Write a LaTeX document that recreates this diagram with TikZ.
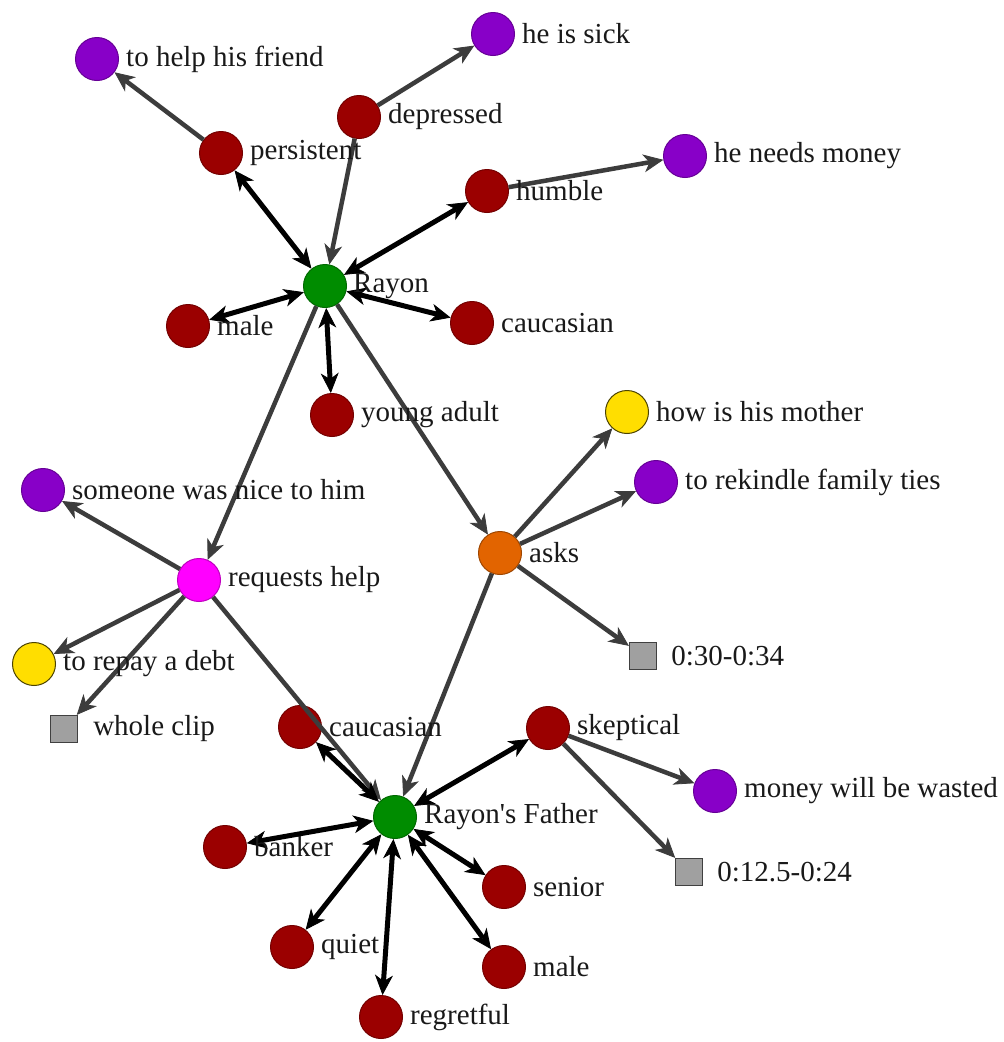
\documentclass[tikz,border=0pt]{standalone}
\usepackage{fontspec}
\setmainfont{Liberation Serif}
\newfontfamily\labelfont{Liberation Serif}
\usetikzlibrary{arrows.meta}

\definecolor{attrred}{RGB}{155,0,0}
\definecolor{aimpurple}{RGB}{136,0,200}
\definecolor{hubgreen}{RGB}{0,140,0}
\definecolor{actmagenta}{RGB}{255,0,255}
\definecolor{actorange}{RGB}{226,100,0}
\definecolor{askyellow}{RGB}{255,222,0}
\definecolor{boxgray}{RGB}{160,160,160}
\definecolor{edgegray}{RGB}{60,60,60}

\tikzset{
  tip/.tip={Stealth[length=20pt,width=18pt,inset=6pt,line width=0.8pt]},
  dot/.style={circle, minimum size=43pt, inner sep=0pt, line width=1pt},
  attr/.style={dot, fill=attrred, draw=attrred!75!black},
  aim/.style={dot, fill=aimpurple, draw=aimpurple!75!black},
  hub/.style={dot, fill=hubgreen, draw=hubgreen!75!black},
  wish/.style={dot, fill=askyellow, draw=black!70!askyellow},
  reqnode/.style={dot, fill=actmagenta, draw=actmagenta!75!black},
  asknode/.style={dot, fill=actorange, draw=actorange!70!black},
  timebox/.style={rectangle, minimum size=27pt, inner sep=0pt, fill=boxgray,
    draw=black!75, line width=1.2pt},
  txt/.style={anchor=west, inner sep=0pt, text=black!90,
    font=\labelfont\fontsize{29}{31}\selectfont},
  one/.style={draw=edgegray, line width=4.5pt, -tip},
  two/.style={draw=black, line width=5pt, tip-tip},
}

\begin{document}
\begin{tikzpicture}[x=1pt,y=-1pt]
  \useasboundingbox[fill=white] (0,0) rectangle (1004,1042);

  % Rayon and his traits
  \node[aim]  (friend)     at (97,59)   {};
  \node[aim]  (sick)       at (493,34)  {};
  \node[attr] (depressed)  at (359,117) {};
  \node[attr] (persistent) at (221,153) {};
  \node[attr] (humble)     at (487,191) {};
  \node[aim]  (needmoney)  at (685,156) {};
  \node[hub]  (rayon)      at (325,286) {};
  \node[attr] (maleA)      at (188,326) {};
  \node[attr] (caucA)      at (472,323) {};
  \node[attr] (young)      at (332,415) {};

  % actions
  \node[wish]    (mother)  at (627,412) {};
  \node[aim]     (ties)    at (656,482) {};
  \node[aim]     (nice)    at (43,490)  {};
  \node[reqnode] (request) at (199,580) {};
  \node[asknode] (asks)    at (500,553) {};
  \node[wish]    (debt)    at (34,664)  {};
  \node[timebox] (tasks)   at (643,656) {};
  \node[timebox] (twhole)  at (64,729)  {};

  % Rayon's Father and his traits
  \node[attr] (caucB)     at (300,727)  {};
  \node[attr] (skeptical) at (548,728)  {};
  \node[hub]  (father)    at (395,817)  {};
  \node[aim]  (wasted)    at (715,791)  {};
  \node[timebox] (tskep)  at (689,872)  {};
  \node[attr] (banker)    at (225,847)  {};
  \node[attr] (senior)    at (504,887)  {};
  \node[attr] (quiet)     at (292,947)  {};
  \node[attr] (maleB)     at (504,967)  {};
  \node[attr] (regretful) at (381,1017) {};

  % connectors around Rayon
  \draw[one] (persistent) -- (friend);
  \draw[one] (depressed) -- (sick);
  \draw[one] (depressed) -- (rayon);
  \draw[one] (humble) -- (needmoney);
  \draw[two] (persistent) -- (rayon);
  \draw[two] (humble) -- (rayon);
  \draw[two] (maleA) -- (rayon);
  \draw[two] (caucA) -- (rayon);
  \draw[two] (young) -- (rayon);
  \draw[one] (rayon) -- (request);
  \draw[one] (rayon) -- (asks);

  % connectors from the actions
  \draw[one] (asks) -- (mother);
  \draw[one] (asks) -- (ties);
  \draw[one] (asks) -- (tasks);
  \draw[one] (asks) -- (father);
  \draw[one] (request) -- (nice);
  \draw[one] (request) -- (debt);
  \draw[one] (request) -- (twhole);
  \draw[one] (request) -- (father);

  % connectors around Rayon's Father
  \draw[two] (caucB) -- (father);
  \draw[two] (skeptical) -- (father);
  \draw[one] (skeptical) -- (wasted);
  \draw[one] (skeptical) -- (tskep);
  \draw[two] (banker) -- (father);
  \draw[two] (senior) -- (father);
  \draw[two] (quiet) -- (father);
  \draw[two] (maleB) -- (father);
  \draw[two] (regretful) -- (father);

  % texts beside the nodes
  \node[txt] (friend-t)     at ([xshift=7pt]friend.east)     {to help his friend};
  \node[txt] (sick-t)       at ([xshift=7pt]sick.east)       {he is sick};
  \node[txt] (depressed-t)  at ([xshift=7pt]depressed.east)  {depressed};
  \node[txt] (persistent-t) at ([xshift=7pt]persistent.east) {persistent};
  \node[txt] (humble-t)     at ([xshift=7pt]humble.east)     {humble};
  \node[txt] (needmoney-t)  at ([xshift=7pt]needmoney.east)  {he needs money};
  \node[txt] (rayon-t)      at ([xshift=6pt]rayon.east)      {Rayon};
  \node[txt] (maleA-t)      at ([xshift=7pt]maleA.east)      {male};
  \node[txt] (caucA-t)      at ([xshift=7pt]caucA.east)      {caucasian};
  \node[txt] (young-t)      at ([xshift=7pt]young.east)      {young adult};
  \node[txt] (mother-t)     at ([xshift=7pt]mother.east)     {how is his mother};
  \node[txt] (ties-t)       at ([xshift=7pt]ties.east)       {to rekindle family ties};
  \node[txt] (nice-t)       at ([xshift=7pt]nice.east)       {someone was nice to him};
  \node[txt] (request-t)    at ([xshift=7pt]request.east)    {requests help};
  \node[txt] (asks-t)       at ([xshift=7pt]asks.east)       {asks};
  \node[txt] (debt-t)       at ([xshift=7pt]debt.east)       {to repay a debt};
  \node[txt] (tasks-t)      at ([xshift=14pt]tasks.east)     {0:30-0:34};
  \node[txt] (twhole-t)     at ([xshift=15pt]twhole.east)    {whole clip};
  \node[txt] (caucB-t)      at ([xshift=7pt]caucB.east)      {caucasian};
  \node[txt] (skeptical-t)  at ([xshift=7pt]skeptical.east)  {skeptical};
  \node[txt] (father-t)     at ([xshift=7pt]father.east)     {Rayon's Father};
  \node[txt] (wasted-t)     at ([xshift=7pt]wasted.east)     {money will be wasted};
  \node[txt] (tskep-t)      at ([xshift=14pt]tskep.east)     {0:12.5-0:24};
  \node[txt] (banker-t)     at ([xshift=7pt]banker.east)     {banker};
  \node[txt] (senior-t)     at ([xshift=7pt]senior.east)     {senior};
  \node[txt] (quiet-t)      at ([xshift=7pt]quiet.east)      {quiet};
  \node[txt] (maleB-t)      at ([xshift=7pt]maleB.east)      {male};
  \node[txt] (regretful-t)  at ([xshift=7pt]regretful.east)  {regretful};
\end{tikzpicture}
\end{document}
